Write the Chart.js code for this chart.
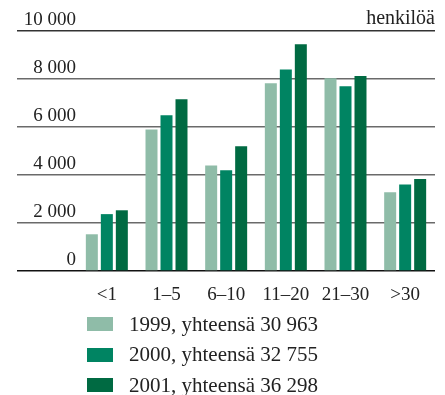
<!DOCTYPE html>
<html lang="fi">
<head>
<meta charset="utf-8">
<script src="https://cdn.jsdelivr.net/npm/chart.js@4"></script>
<style>
  body { margin: 0; background: #fff; }
  #kaavio { position: relative; width: 445px; height: 395px; }
  #selite {
    position: absolute; left: 87px; top: 309px;
    font: 21px "Liberation Serif", "Times New Roman", serif; color: #222;
  }
  .rivi { display: flex; align-items: center; height: 30.5px; }
  .ruutu { width: 26px; height: 14px; margin-right: 16px; }
</style>
</head>
<body>
<div id="kaavio">
  <canvas id="pylvaat"></canvas>
  <div id="selite"></div>
</div>
<script>
const luokat = ['<1', '1–5', '6–10', '11–20', '21–30', '>30'];
const vuodet = ['1999', '2000', '2001'];
const yhteensa = [30963, 32755, 36298];
const arvot1999 = [1530, 5900, 4400, 7820, 8030, 3280];
const arvot2000 = [2370, 6490, 4200, 8400, 7700, 3600];
const arvot2001 = [2530, 7160, 5200, 9450, 8120, 3830];
const varit = ['#8fbca8', '#008462', '#006a42'];

const fontti = '"Liberation Serif", "Times New Roman", serif';

// tuhaterotin välilyönnillä: 10000 -> "10 000"
function muotoile(luku) {
  return String(luku).replace(/\B(?=(\d{3})+(?!\d))/g, ' ');
}

const sarjat = [arvot1999, arvot2000, arvot2001];

new Chart(document.getElementById('pylvaat'), {
  type: 'bar',
  data: {
    labels: luokat,
    datasets: sarjat.map((arvot, i) => ({
      label: vuodet[i] + ', yhteensä ' + muotoile(yhteensa[i]),
      data: arvot,
      backgroundColor: varit[i],
      categoryPercentage: 0.754,
      barPercentage: 0.8
    }))
  },
  options: {
    responsive: true,
    maintainAspectRatio: false,
    animation: false,
    layout: { padding: { left: 17, right: 10, top: 0, bottom: 90 } },
    plugins: {
      legend: { display: false },
      tooltip: { enabled: false },
      title: {
        display: true,
        text: 'henkilöä',
        align: 'end',
        color: '#222',
        font: { family: fontti, size: 20, weight: 'normal', lineHeight: 1 },
        padding: { top: 9, bottom: 2 }
      }
    },
    scales: {
      x: {
        grid: { display: false },
        border: { display: false },
        ticks: { color: '#222', font: { family: fontti, size: 19 }, padding: 5 },
        afterFit: s => { s.height = 34; }
      },
      y: {
        min: 0,
        max: 10000,
        border: { display: false },
        grid: {
          color: c => c.tick.value === 0 ? '#111' : (c.tick.value === 10000 ? '#333' : '#6a6a6a'),
          lineWidth: 1.5,
          tickLength: 60
        },
        ticks: {
          stepSize: 2000,
          color: '#222',
          font: { family: fontti, size: 19 },
          padding: -59,
          labelOffset: -11,
          callback: v => muotoile(v)
        },
        afterFit: s => { s.width = 60; }
      }
    }
  }
});

// selite alas, ruutu ja teksti allekkain
const selite = document.getElementById('selite');
vuodet.forEach((vuosi, i) => {
  const rivi = document.createElement('div');
  rivi.className = 'rivi';
  rivi.innerHTML = `<span class="ruutu" style="background:${varit[i]}"></span><span>${vuosi}, yhteensä ${muotoile(yhteensa[i])}</span>`;
  selite.appendChild(rivi);
});
</script>
</body>
</html>
